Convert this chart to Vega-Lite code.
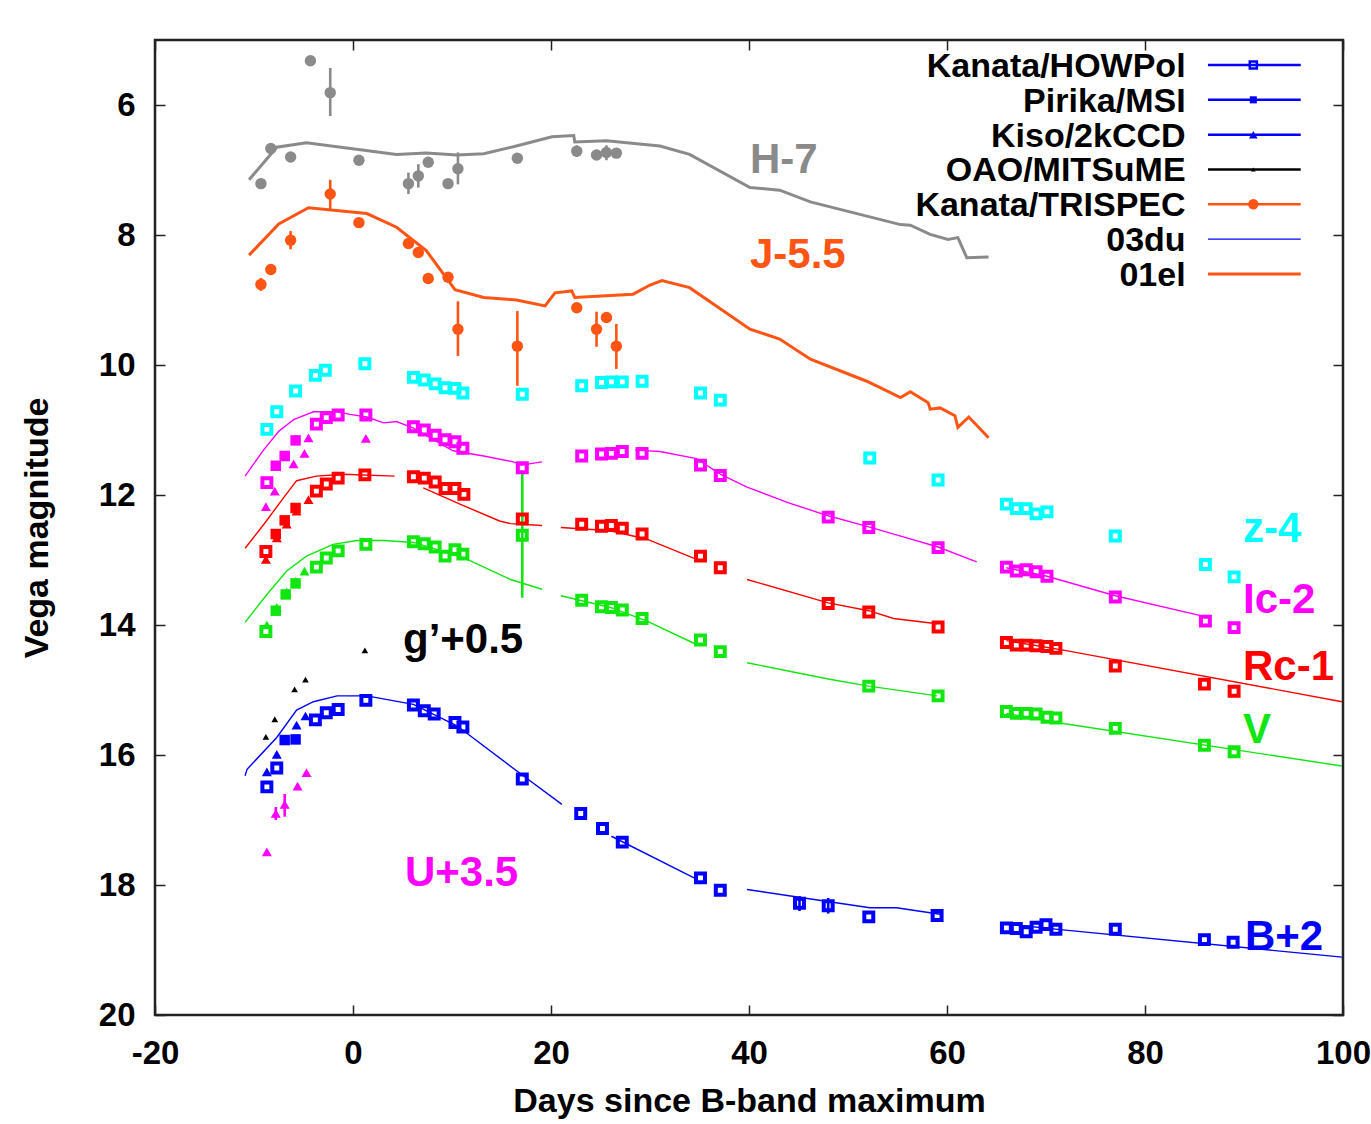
{
  "$schema": "https://vega.github.io/schema/vega-lite/v6.json",
  "width": 1188,
  "height": 975,
  "autosize": "none",
  "padding": {"left": 155, "top": 40, "right": 28, "bottom": 109},
  "background": "white",
  "config": {
    "view": {"stroke": "#222222", "strokeWidth": 2.5},
    "font": "Liberation Sans",
    "axis": {
      "grid": false,
      "domain": false,
      "labelFont": "Liberation Sans",
      "labelFontWeight": "bold",
      "labelFontSize": 33,
      "labelColor": "#000000",
      "labelFlush": false,
      "titleFont": "Liberation Sans",
      "titleFontWeight": "bold",
      "titleFontSize": 34,
      "titleColor": "#000000",
      "tickColor": "#222222",
      "tickWidth": 1.5,
      "tickSize": -10
    }
  },
  "datasets": {
    "obs": [
      {"b":"H","i":"TRISPEC","d":-9.3,"m":7.21},
      {"b":"H","i":"TRISPEC","d":-8.3,"m":6.67},
      {"b":"H","i":"TRISPEC","d":-6.3,"m":6.80},
      {"b":"H","i":"TRISPEC","d":-4.3,"m":5.32},
      {"b":"H","i":"TRISPEC","d":-2.3,"m":5.81,"lo":5.43,"hi":6.17},
      {"b":"H","i":"TRISPEC","d":0.6,"m":6.85},
      {"b":"H","i":"TRISPEC","d":5.6,"m":7.21,"lo":7.04,"hi":7.37},
      {"b":"H","i":"TRISPEC","d":6.6,"m":7.09,"lo":6.91,"hi":7.27},
      {"b":"H","i":"TRISPEC","d":7.6,"m":6.88},
      {"b":"H","i":"TRISPEC","d":9.6,"m":7.21},
      {"b":"H","i":"TRISPEC","d":10.6,"m":6.98,"lo":6.73,"hi":7.22},
      {"b":"H","i":"TRISPEC","d":16.6,"m":6.82},
      {"b":"H","i":"TRISPEC","d":22.6,"m":6.71,"lo":6.62,"hi":6.80},
      {"b":"H","i":"TRISPEC","d":24.6,"m":6.77},
      {"b":"H","i":"TRISPEC","d":25.6,"m":6.73,"lo":6.62,"hi":6.85},
      {"b":"H","i":"TRISPEC","d":26.6,"m":6.74},

      {"b":"J","i":"TRISPEC","d":-9.3,"m":8.76,"lo":8.66,"hi":8.86},
      {"b":"J","i":"TRISPEC","d":-8.3,"m":8.53},
      {"b":"J","i":"TRISPEC","d":-6.3,"m":8.08,"lo":7.94,"hi":8.22},
      {"b":"J","i":"TRISPEC","d":-2.3,"m":7.37,"lo":7.15,"hi":7.60},
      {"b":"J","i":"TRISPEC","d":0.6,"m":7.81},
      {"b":"J","i":"TRISPEC","d":5.6,"m":8.13},
      {"b":"J","i":"TRISPEC","d":6.6,"m":8.27},
      {"b":"J","i":"TRISPEC","d":7.6,"m":8.67},
      {"b":"J","i":"TRISPEC","d":9.6,"m":8.65},
      {"b":"J","i":"TRISPEC","d":10.6,"m":9.45,"lo":9.02,"hi":9.86},
      {"b":"J","i":"TRISPEC","d":16.6,"m":9.71,"lo":9.17,"hi":10.32},
      {"b":"J","i":"TRISPEC","d":22.6,"m":9.12},
      {"b":"J","i":"TRISPEC","d":24.6,"m":9.45,"lo":9.18,"hi":9.72},
      {"b":"J","i":"TRISPEC","d":25.6,"m":9.27},
      {"b":"J","i":"TRISPEC","d":26.6,"m":9.71,"lo":9.37,"hi":10.06},

      {"b":"z","i":"HOWPol","d":-8.7,"m":10.99},
      {"b":"z","i":"HOWPol","d":-7.7,"m":10.72},
      {"b":"z","i":"HOWPol","d":-5.8,"m":10.40},
      {"b":"z","i":"HOWPol","d":-3.8,"m":10.16},
      {"b":"z","i":"HOWPol","d":-2.8,"m":10.08},
      {"b":"z","i":"HOWPol","d":1.2,"m":9.98},
      {"b":"z","i":"HOWPol","d":6.1,"m":10.19},
      {"b":"z","i":"HOWPol","d":7.2,"m":10.23},
      {"b":"z","i":"HOWPol","d":8.3,"m":10.29},
      {"b":"z","i":"HOWPol","d":9.3,"m":10.35},
      {"b":"z","i":"HOWPol","d":10.3,"m":10.36},
      {"b":"z","i":"HOWPol","d":11.1,"m":10.43},
      {"b":"z","i":"HOWPol","d":17.1,"m":10.45},
      {"b":"z","i":"HOWPol","d":23.1,"m":10.32},
      {"b":"z","i":"HOWPol","d":25.1,"m":10.27},
      {"b":"z","i":"HOWPol","d":26.1,"m":10.26},
      {"b":"z","i":"HOWPol","d":27.2,"m":10.26},
      {"b":"z","i":"HOWPol","d":29.2,"m":10.25},
      {"b":"z","i":"HOWPol","d":35.1,"m":10.43},
      {"b":"z","i":"HOWPol","d":37.1,"m":10.54},
      {"b":"z","i":"HOWPol","d":52.2,"m":11.43},
      {"b":"z","i":"HOWPol","d":59.1,"m":11.77},
      {"b":"z","i":"HOWPol","d":66.0,"m":12.14},
      {"b":"z","i":"HOWPol","d":67.0,"m":12.21},
      {"b":"z","i":"HOWPol","d":68.0,"m":12.21},
      {"b":"z","i":"HOWPol","d":69.0,"m":12.29},
      {"b":"z","i":"HOWPol","d":70.1,"m":12.26},
      {"b":"z","i":"HOWPol","d":77.0,"m":12.63},
      {"b":"z","i":"HOWPol","d":86.1,"m":13.07},
      {"b":"z","i":"HOWPol","d":89.0,"m":13.26},

      {"b":"I","i":"HOWPol","d":-8.7,"m":11.81},
      {"b":"I","i":"MSI","d":-7.8,"m":11.55},
      {"b":"I","i":"MSI","d":-6.9,"m":11.40},
      {"b":"I","i":"MSI","d":-5.8,"m":11.16},
      {"b":"I","i":"HOWPol","d":-3.7,"m":10.91},
      {"b":"I","i":"HOWPol","d":-2.7,"m":10.81},
      {"b":"I","i":"HOWPol","d":-1.5,"m":10.77},
      {"b":"I","i":"HOWPol","d":1.3,"m":10.77},
      {"b":"I","i":"HOWPol","d":6.1,"m":10.95},
      {"b":"I","i":"HOWPol","d":7.2,"m":11.00},
      {"b":"I","i":"HOWPol","d":8.3,"m":11.08},
      {"b":"I","i":"HOWPol","d":9.3,"m":11.15},
      {"b":"I","i":"HOWPol","d":10.3,"m":11.18},
      {"b":"I","i":"HOWPol","d":11.1,"m":11.28},
      {"b":"I","i":"HOWPol","d":17.1,"m":11.58},
      {"b":"I","i":"HOWPol","d":23.1,"m":11.40},
      {"b":"I","i":"HOWPol","d":25.1,"m":11.37},
      {"b":"I","i":"HOWPol","d":26.1,"m":11.36},
      {"b":"I","i":"HOWPol","d":27.2,"m":11.33},
      {"b":"I","i":"HOWPol","d":29.2,"m":11.36},
      {"b":"I","i":"HOWPol","d":35.1,"m":11.54},
      {"b":"I","i":"HOWPol","d":37.1,"m":11.70},
      {"b":"I","i":"HOWPol","d":48.0,"m":12.34},
      {"b":"I","i":"HOWPol","d":52.1,"m":12.50},
      {"b":"I","i":"HOWPol","d":59.1,"m":12.81},
      {"b":"I","i":"HOWPol","d":66.0,"m":13.11},
      {"b":"I","i":"HOWPol","d":67.0,"m":13.17},
      {"b":"I","i":"HOWPol","d":68.0,"m":13.15},
      {"b":"I","i":"HOWPol","d":69.0,"m":13.18},
      {"b":"I","i":"HOWPol","d":70.1,"m":13.25},
      {"b":"I","i":"HOWPol","d":77.0,"m":13.57},
      {"b":"I","i":"HOWPol","d":86.1,"m":13.94},
      {"b":"I","i":"HOWPol","d":89.0,"m":14.04},
      {"b":"I","i":"2kCCD","d":-8.8,"m":12.18},
      {"b":"I","i":"2kCCD","d":-7.9,"m":11.94},
      {"b":"I","i":"2kCCD","d":-6.0,"m":11.52},
      {"b":"I","i":"2kCCD","d":-4.9,"m":11.36},
      {"b":"I","i":"2kCCD","d":-4.5,"m":11.12},
      {"b":"I","i":"2kCCD","d":1.3,"m":11.13},

      {"b":"R","i":"HOWPol","d":-8.8,"m":12.87},
      {"b":"R","i":"MSI","d":-7.8,"m":12.60},
      {"b":"R","i":"MSI","d":-6.9,"m":12.39},
      {"b":"R","i":"MSI","d":-5.8,"m":12.20},
      {"b":"R","i":"HOWPol","d":-3.7,"m":11.94},
      {"b":"R","i":"HOWPol","d":-2.7,"m":11.83},
      {"b":"R","i":"HOWPol","d":-1.5,"m":11.74},
      {"b":"R","i":"HOWPol","d":1.2,"m":11.69},
      {"b":"R","i":"HOWPol","d":6.1,"m":11.72},
      {"b":"R","i":"HOWPol","d":7.2,"m":11.74},
      {"b":"R","i":"HOWPol","d":8.3,"m":11.80},
      {"b":"R","i":"HOWPol","d":9.3,"m":11.90},
      {"b":"R","i":"HOWPol","d":10.3,"m":11.90},
      {"b":"R","i":"HOWPol","d":11.2,"m":11.99},
      {"b":"R","i":"HOWPol","d":17.1,"m":12.37},
      {"b":"R","i":"HOWPol","d":23.1,"m":12.45},
      {"b":"R","i":"HOWPol","d":25.1,"m":12.48},
      {"b":"R","i":"HOWPol","d":26.1,"m":12.47},
      {"b":"R","i":"HOWPol","d":27.2,"m":12.51},
      {"b":"R","i":"HOWPol","d":29.2,"m":12.60},
      {"b":"R","i":"HOWPol","d":35.1,"m":12.94},
      {"b":"R","i":"HOWPol","d":37.1,"m":13.12},
      {"b":"R","i":"HOWPol","d":48.0,"m":13.67},
      {"b":"R","i":"HOWPol","d":52.1,"m":13.80},
      {"b":"R","i":"HOWPol","d":59.1,"m":14.03},
      {"b":"R","i":"HOWPol","d":66.0,"m":14.27},
      {"b":"R","i":"HOWPol","d":67.0,"m":14.31},
      {"b":"R","i":"HOWPol","d":68.0,"m":14.31},
      {"b":"R","i":"HOWPol","d":69.0,"m":14.32},
      {"b":"R","i":"HOWPol","d":70.1,"m":14.33},
      {"b":"R","i":"HOWPol","d":71.0,"m":14.36},
      {"b":"R","i":"HOWPol","d":77.0,"m":14.63},
      {"b":"R","i":"HOWPol","d":86.0,"m":14.91},
      {"b":"R","i":"HOWPol","d":89.0,"m":15.02},
      {"b":"R","i":"2kCCD","d":-8.8,"m":12.99},
      {"b":"R","i":"2kCCD","d":-7.7,"m":12.66},
      {"b":"R","i":"2kCCD","d":-6.7,"m":12.45},
      {"b":"R","i":"2kCCD","d":-5.7,"m":12.25},
      {"b":"R","i":"2kCCD","d":-4.5,"m":12.07},

      {"b":"V","i":"HOWPol","d":-8.8,"m":14.10},
      {"b":"V","i":"MSI","d":-7.8,"m":13.78},
      {"b":"V","i":"MSI","d":-6.8,"m":13.53},
      {"b":"V","i":"MSI","d":-5.8,"m":13.36},
      {"b":"V","i":"HOWPol","d":-3.7,"m":13.11},
      {"b":"V","i":"HOWPol","d":-2.7,"m":12.97},
      {"b":"V","i":"HOWPol","d":-1.5,"m":12.86},
      {"b":"V","i":"HOWPol","d":1.3,"m":12.76},
      {"b":"V","i":"HOWPol","d":6.1,"m":12.72},
      {"b":"V","i":"HOWPol","d":7.2,"m":12.75},
      {"b":"V","i":"HOWPol","d":8.3,"m":12.80},
      {"b":"V","i":"HOWPol","d":9.3,"m":12.94},
      {"b":"V","i":"HOWPol","d":10.3,"m":12.84},
      {"b":"V","i":"HOWPol","d":11.1,"m":12.91},
      {"b":"V","i":"HOWPol","d":17.1,"m":12.62,"lo":11.66,"hi":13.58},
      {"b":"V","i":"HOWPol","d":23.1,"m":13.62},
      {"b":"V","i":"HOWPol","d":25.1,"m":13.72},
      {"b":"V","i":"HOWPol","d":26.1,"m":13.73},
      {"b":"V","i":"HOWPol","d":27.2,"m":13.77},
      {"b":"V","i":"HOWPol","d":29.2,"m":13.90},
      {"b":"V","i":"HOWPol","d":35.1,"m":14.23},
      {"b":"V","i":"HOWPol","d":37.1,"m":14.41},
      {"b":"V","i":"HOWPol","d":52.1,"m":14.94},
      {"b":"V","i":"HOWPol","d":59.1,"m":15.09},
      {"b":"V","i":"HOWPol","d":66.0,"m":15.33},
      {"b":"V","i":"HOWPol","d":67.0,"m":15.36},
      {"b":"V","i":"HOWPol","d":68.0,"m":15.36},
      {"b":"V","i":"HOWPol","d":69.0,"m":15.37},
      {"b":"V","i":"HOWPol","d":70.1,"m":15.42},
      {"b":"V","i":"HOWPol","d":71.0,"m":15.43},
      {"b":"V","i":"HOWPol","d":77.0,"m":15.59},
      {"b":"V","i":"HOWPol","d":86.0,"m":15.85},
      {"b":"V","i":"HOWPol","d":89.0,"m":15.95},
      {"b":"V","i":"2kCCD","d":-8.7,"m":14.00},
      {"b":"V","i":"2kCCD","d":-7.7,"m":13.73},
      {"b":"V","i":"2kCCD","d":-6.7,"m":13.49},
      {"b":"V","i":"2kCCD","d":-5.8,"m":13.33},
      {"b":"V","i":"2kCCD","d":-4.9,"m":13.17},

      {"b":"B","i":"HOWPol","d":-8.7,"m":16.49},
      {"b":"B","i":"HOWPol","d":-7.7,"m":16.20},
      {"b":"B","i":"MSI","d":-6.9,"m":15.77},
      {"b":"B","i":"MSI","d":-5.8,"m":15.76},
      {"b":"B","i":"HOWPol","d":-3.8,"m":15.46},
      {"b":"B","i":"HOWPol","d":-2.7,"m":15.35},
      {"b":"B","i":"HOWPol","d":-1.5,"m":15.30},
      {"b":"B","i":"HOWPol","d":1.3,"m":15.16},
      {"b":"B","i":"HOWPol","d":6.1,"m":15.23},
      {"b":"B","i":"HOWPol","d":7.2,"m":15.32},
      {"b":"B","i":"HOWPol","d":8.2,"m":15.37},
      {"b":"B","i":"HOWPol","d":10.3,"m":15.50},
      {"b":"B","i":"HOWPol","d":11.1,"m":15.57},
      {"b":"B","i":"HOWPol","d":17.1,"m":16.37},
      {"b":"B","i":"HOWPol","d":23.0,"m":16.90},
      {"b":"B","i":"HOWPol","d":25.2,"m":17.13},
      {"b":"B","i":"HOWPol","d":27.2,"m":17.34},
      {"b":"B","i":"HOWPol","d":35.1,"m":17.89},
      {"b":"B","i":"HOWPol","d":37.1,"m":18.08},
      {"b":"B","i":"HOWPol","d":45.1,"m":18.28,"lo":18.17,"hi":18.40},
      {"b":"B","i":"HOWPol","d":48.0,"m":18.32,"lo":18.20,"hi":18.44},
      {"b":"B","i":"HOWPol","d":52.1,"m":18.49},
      {"b":"B","i":"HOWPol","d":59.0,"m":18.47},
      {"b":"B","i":"HOWPol","d":66.0,"m":18.66},
      {"b":"B","i":"HOWPol","d":67.0,"m":18.67},
      {"b":"B","i":"HOWPol","d":68.0,"m":18.72},
      {"b":"B","i":"HOWPol","d":69.0,"m":18.65},
      {"b":"B","i":"HOWPol","d":70.0,"m":18.61},
      {"b":"B","i":"HOWPol","d":71.0,"m":18.68},
      {"b":"B","i":"HOWPol","d":77.0,"m":18.68},
      {"b":"B","i":"HOWPol","d":86.0,"m":18.84},
      {"b":"B","i":"HOWPol","d":88.9,"m":18.88},
      {"b":"B","i":"2kCCD","d":-8.7,"m":16.26},
      {"b":"B","i":"2kCCD","d":-7.7,"m":15.99},
      {"b":"B","i":"2kCCD","d":-5.7,"m":15.54},
      {"b":"B","i":"2kCCD","d":-4.8,"m":15.40},

      {"b":"U","i":"2kCCD","d":-8.7,"m":17.49},
      {"b":"U","i":"2kCCD","d":-7.8,"m":16.90,"lo":16.80,"hi":17.00},
      {"b":"U","i":"2kCCD","d":-6.9,"m":16.76,"lo":16.60,"hi":16.95},
      {"b":"U","i":"2kCCD","d":-5.6,"m":16.48},
      {"b":"U","i":"2kCCD","d":-4.7,"m":16.27},

      {"b":"g","i":"MITSuME","d":-8.8,"m":15.72},
      {"b":"g","i":"MITSuME","d":-7.9,"m":15.45},
      {"b":"g","i":"MITSuME","d":-5.9,"m":14.99},
      {"b":"g","i":"MITSuME","d":-4.8,"m":14.84},
      {"b":"g","i":"MITSuME","d":1.2,"m":14.39}
    ],
    "model": [
      {"b":"H","t":"01el","s":"H1","d":-10.5,"m":7.15},
      {"b":"H","t":"01el","s":"H1","d":-7.7,"m":6.65},
      {"b":"H","t":"01el","s":"H1","d":-4.7,"m":6.58},
      {"b":"H","t":"01el","s":"H1","d":4.4,"m":6.76},
      {"b":"H","t":"01el","s":"H1","d":7.4,"m":6.74},
      {"b":"H","t":"01el","s":"H1","d":10.5,"m":6.77},
      {"b":"H","t":"01el","s":"H1","d":13.2,"m":6.75},
      {"b":"H","t":"01el","s":"H1","d":16.5,"m":6.63},
      {"b":"H","t":"01el","s":"H1","d":20.1,"m":6.49},
      {"b":"H","t":"01el","s":"H1","d":22.3,"m":6.47},
      {"b":"H","t":"01el","s":"H1","d":22.4,"m":6.57},
      {"b":"H","t":"01el","s":"H1","d":25.6,"m":6.55},
      {"b":"H","t":"01el","s":"H1","d":31.0,"m":6.63},
      {"b":"H","t":"01el","s":"H1","d":34.0,"m":6.76},
      {"b":"H","t":"01el","s":"H1","d":40.1,"m":7.27},
      {"b":"H","t":"01el","s":"H1","d":43.1,"m":7.31},
      {"b":"H","t":"01el","s":"H1","d":46.2,"m":7.49},
      {"b":"H","t":"01el","s":"H1","d":55.3,"m":7.84},
      {"b":"H","t":"01el","s":"H1","d":56.3,"m":7.85},
      {"b":"H","t":"01el","s":"H1","d":58.3,"m":7.99},
      {"b":"H","t":"01el","s":"H1","d":60.1,"m":8.07},
      {"b":"H","t":"01el","s":"H1","d":61.1,"m":8.04},
      {"b":"H","t":"01el","s":"H1","d":62.0,"m":8.35},
      {"b":"H","t":"01el","s":"H1","d":64.2,"m":8.34},

      {"b":"J","t":"01el","s":"J1","d":-10.5,"m":8.31},
      {"b":"J","t":"01el","s":"J1","d":-7.5,"m":7.83},
      {"b":"J","t":"01el","s":"J1","d":-4.5,"m":7.58},
      {"b":"J","t":"01el","s":"J1","d":1.4,"m":7.67},
      {"b":"J","t":"01el","s":"J1","d":4.4,"m":7.88},
      {"b":"J","t":"01el","s":"J1","d":7.4,"m":8.24},
      {"b":"J","t":"01el","s":"J1","d":10.3,"m":8.84},
      {"b":"J","t":"01el","s":"J1","d":13.2,"m":8.96},
      {"b":"J","t":"01el","s":"J1","d":16.5,"m":9.00},
      {"b":"J","t":"01el","s":"J1","d":19.4,"m":9.09},
      {"b":"J","t":"01el","s":"J1","d":20.4,"m":8.89},
      {"b":"J","t":"01el","s":"J1","d":22.1,"m":8.86},
      {"b":"J","t":"01el","s":"J1","d":22.4,"m":8.96},
      {"b":"J","t":"01el","s":"J1","d":28.3,"m":8.91},
      {"b":"J","t":"01el","s":"J1","d":30.0,"m":8.77},
      {"b":"J","t":"01el","s":"J1","d":31.2,"m":8.70},
      {"b":"J","t":"01el","s":"J1","d":34.0,"m":8.81},
      {"b":"J","t":"01el","s":"J1","d":40.1,"m":9.45},
      {"b":"J","t":"01el","s":"J1","d":43.1,"m":9.60},
      {"b":"J","t":"01el","s":"J1","d":46.2,"m":9.91},
      {"b":"J","t":"01el","s":"J1","d":51.9,"m":10.25},
      {"b":"J","t":"01el","s":"J1","d":55.3,"m":10.50},
      {"b":"J","t":"01el","s":"J1","d":56.3,"m":10.41},
      {"b":"J","t":"01el","s":"J1","d":58.1,"m":10.58},
      {"b":"J","t":"01el","s":"J1","d":58.3,"m":10.68},
      {"b":"J","t":"01el","s":"J1","d":59.3,"m":10.66},
      {"b":"J","t":"01el","s":"J1","d":60.8,"m":10.78},
      {"b":"J","t":"01el","s":"J1","d":61.1,"m":10.96},
      {"b":"J","t":"01el","s":"J1","d":62.2,"m":10.80},
      {"b":"J","t":"01el","s":"J1","d":64.2,"m":11.12},

      {"b":"I","t":"03du","s":"I1","d":-10.9,"m":11.71},
      {"b":"I","t":"03du","s":"I1","d":-9.1,"m":11.32},
      {"b":"I","t":"03du","s":"I1","d":-7.5,"m":11.02},
      {"b":"I","t":"03du","s":"I1","d":-6.0,"m":10.84},
      {"b":"I","t":"03du","s":"I1","d":-4.0,"m":10.72},
      {"b":"I","t":"03du","s":"I1","d":-1.6,"m":10.72},
      {"b":"I","t":"03du","s":"I1","d":-0.3,"m":10.76},
      {"b":"I","t":"03du","s":"I1","d":1.4,"m":10.80},
      {"b":"I","t":"03du","s":"I1","d":3.1,"m":10.89},
      {"b":"I","t":"03du","s":"I1","d":4.4,"m":10.87},
      {"b":"I","t":"03du","s":"I1","d":6.1,"m":10.97},
      {"b":"I","t":"03du","s":"I1","d":10.1,"m":11.32},
      {"b":"I","t":"03du","s":"I1","d":13.2,"m":11.40},
      {"b":"I","t":"03du","s":"I1","d":16.2,"m":11.49},
      {"b":"I","t":"03du","s":"I1","d":17.0,"m":11.54},
      {"b":"I","t":"03du","s":"I1","d":19.1,"m":11.49},
      {"b":"I","t":"03du","s":"I2","d":28.5,"m":11.31},
      {"b":"I","t":"03du","s":"I2","d":31.0,"m":11.33},
      {"b":"I","t":"03du","s":"I2","d":34.7,"m":11.44},
      {"b":"I","t":"03du","s":"I2","d":37.1,"m":11.68},
      {"b":"I","t":"03du","s":"I2","d":39.8,"m":11.88},
      {"b":"I","t":"03du","s":"I2","d":44.0,"m":12.12},
      {"b":"I","t":"03du","s":"I2","d":48.0,"m":12.32},
      {"b":"I","t":"03du","s":"I2","d":52.1,"m":12.49},
      {"b":"I","t":"03du","s":"I2","d":55.5,"m":12.64},
      {"b":"I","t":"03du","s":"I2","d":59.1,"m":12.80},
      {"b":"I","t":"03du","s":"I2","d":63.0,"m":13.03},
      {"b":"I","t":"03du","s":"I3","d":66.0,"m":13.12},
      {"b":"I","t":"03du","s":"I3","d":70.1,"m":13.25},
      {"b":"I","t":"03du","s":"I3","d":77.0,"m":13.55},
      {"b":"I","t":"03du","s":"I3","d":86.6,"m":13.89},

      {"b":"R","t":"03du","s":"R1","d":-10.9,"m":12.82},
      {"b":"R","t":"03du","s":"R1","d":-9.0,"m":12.45},
      {"b":"R","t":"03du","s":"R1","d":-7.0,"m":12.04},
      {"b":"R","t":"03du","s":"R1","d":-5.7,"m":11.78},
      {"b":"R","t":"03du","s":"R1","d":-3.7,"m":11.71},
      {"b":"R","t":"03du","s":"R1","d":-1.0,"m":11.68},
      {"b":"R","t":"03du","s":"R1","d":4.2,"m":11.71},
      {"b":"R","t":"03du","s":"R2","d":7.1,"m":11.89},
      {"b":"R","t":"03du","s":"R2","d":10.8,"m":12.14},
      {"b":"R","t":"03du","s":"R2","d":14.8,"m":12.40},
      {"b":"R","t":"03du","s":"R2","d":15.9,"m":12.44},
      {"b":"R","t":"03du","s":"R2","d":19.1,"m":12.47},
      {"b":"R","t":"03du","s":"R3","d":21.0,"m":12.50},
      {"b":"R","t":"03du","s":"R3","d":26.0,"m":12.55},
      {"b":"R","t":"03du","s":"R3","d":29.7,"m":12.68},
      {"b":"R","t":"03du","s":"R3","d":34.7,"m":12.99},
      {"b":"R","t":"03du","s":"R4","d":39.8,"m":13.30},
      {"b":"R","t":"03du","s":"R4","d":48.0,"m":13.66},
      {"b":"R","t":"03du","s":"R4","d":52.1,"m":13.78},
      {"b":"R","t":"03du","s":"R4","d":54.6,"m":13.90},
      {"b":"R","t":"03du","s":"R4","d":59.0,"m":13.98},
      {"b":"R","t":"03du","s":"R5","d":66.0,"m":14.24},
      {"b":"R","t":"03du","s":"R5","d":71.9,"m":14.39},
      {"b":"R","t":"03du","s":"R5","d":99.9,"m":15.18},

      {"b":"V","t":"03du","s":"V1","d":-10.9,"m":13.96},
      {"b":"V","t":"03du","s":"V1","d":-8.7,"m":13.53},
      {"b":"V","t":"03du","s":"V1","d":-6.7,"m":13.17},
      {"b":"V","t":"03du","s":"V1","d":-4.7,"m":12.94},
      {"b":"V","t":"03du","s":"V1","d":-2.0,"m":12.76},
      {"b":"V","t":"03du","s":"V1","d":0.4,"m":12.70},
      {"b":"V","t":"03du","s":"V1","d":3.1,"m":12.70},
      {"b":"V","t":"03du","s":"V1","d":6.1,"m":12.73},
      {"b":"V","t":"03du","s":"V1","d":11.1,"m":12.96},
      {"b":"V","t":"03du","s":"V1","d":14.8,"m":13.22},
      {"b":"V","t":"03du","s":"V1","d":15.9,"m":13.30},
      {"b":"V","t":"03du","s":"V1","d":19.1,"m":13.45},
      {"b":"V","t":"03du","s":"V2","d":21.0,"m":13.55},
      {"b":"V","t":"03du","s":"V2","d":26.0,"m":13.73},
      {"b":"V","t":"03du","s":"V2","d":29.7,"m":13.94},
      {"b":"V","t":"03du","s":"V2","d":34.7,"m":14.30},
      {"b":"V","t":"03du","s":"V3","d":39.8,"m":14.58},
      {"b":"V","t":"03du","s":"V3","d":48.0,"m":14.83},
      {"b":"V","t":"03du","s":"V3","d":52.1,"m":14.94},
      {"b":"V","t":"03du","s":"V3","d":59.0,"m":15.09},
      {"b":"V","t":"03du","s":"V4","d":66.0,"m":15.36},
      {"b":"V","t":"03du","s":"V4","d":71.9,"m":15.52},
      {"b":"V","t":"03du","s":"V4","d":99.9,"m":16.17},

      {"b":"B","t":"03du","s":"B1","d":-10.9,"m":16.32},
      {"b":"B","t":"03du","s":"B1","d":-10.7,"m":16.22},
      {"b":"B","t":"03du","s":"B1","d":-7.7,"m":15.73},
      {"b":"B","t":"03du","s":"B1","d":-5.7,"m":15.31},
      {"b":"B","t":"03du","s":"B1","d":-4.0,"m":15.18},
      {"b":"B","t":"03du","s":"B1","d":-1.6,"m":15.09},
      {"b":"B","t":"03du","s":"B1","d":1.4,"m":15.09},
      {"b":"B","t":"03du","s":"B1","d":6.1,"m":15.22},
      {"b":"B","t":"03du","s":"B1","d":10.5,"m":15.55},
      {"b":"B","t":"03du","s":"B1","d":17.2,"m":16.32},
      {"b":"B","t":"03du","s":"B1","d":21.1,"m":16.76},
      {"b":"B","t":"03du","s":"B2","d":26.1,"m":17.25},
      {"b":"B","t":"03du","s":"B2","d":34.7,"m":17.91},
      {"b":"B","t":"03du","s":"B3","d":39.8,"m":18.07},
      {"b":"B","t":"03du","s":"B3","d":52.2,"m":18.35},
      {"b":"B","t":"03du","s":"B3","d":54.9,"m":18.35},
      {"b":"B","t":"03du","s":"B3","d":59.3,"m":18.45},
      {"b":"B","t":"03du","s":"B4","d":66.0,"m":18.60},
      {"b":"B","t":"03du","s":"B4","d":71.7,"m":18.69},
      {"b":"B","t":"03du","s":"B4","d":99.9,"m":19.11}
    ],
    "bandLabels": [
      {"t":"H-7","b":"H","d":40.1,"m":7.04},
      {"t":"J-5.5","b":"J","d":40.1,"m":8.51},
      {"t":"z-4","b":"z","d":89.9,"m":12.73},
      {"t":"Ic-2","b":"I","d":89.9,"m":13.81},
      {"t":"Rc-1","b":"R","d":89.9,"m":14.84},
      {"t":"V","b":"V","d":89.9,"m":15.81},
      {"t":"B+2","b":"B","d":90.1,"m":19.0},
      {"t":"U+3.5","b":"U","d":5.25,"m":18.02},
      {"t":"g’+0.5","b":"g","d":5.05,"m":14.43}
    ],
    "key": [
      {"k":0,"label":"Kanata/HOWPol","b":"B","i":"HOWPol"},
      {"k":1,"label":"Pirika/MSI","b":"B","i":"MSI"},
      {"k":2,"label":"Kiso/2kCCD","b":"B","i":"2kCCD"},
      {"k":3,"label":"OAO/MITSuME","b":"g","i":"MITSuME"},
      {"k":4,"label":"Kanata/TRISPEC","b":"J","i":"TRISPEC"},
      {"k":5,"label":"03du","b":"B","i":"03du"},
      {"k":6,"label":"01el","b":"J","i":"01el"}
    ]
  },
  "layer": [
    {
      "layer": [
        {
          "data": {"name": "model"},
          "transform": [{"filter": {"field": "t", "equal": "03du"}}],
          "mark": {"type": "line", "strokeWidth": 1.4},
          "encoding": {
            "x": {"field": "d", "type": "quantitative", "scale": {"domain": [-20, 100], "nice": false, "zero": false},
                  "axis": {"orient": "bottom", "values": [-20, 0, 20, 40, 60, 80, 100], "title": "Days since B-band maximum",
                           "labelExpr": "datum.value < 0 ? '-' + abs(datum.value) : '' + datum.value",
                           "labelPadding": 32, "titlePadding": 14}},
            "y": {"field": "m", "type": "quantitative", "scale": {"domain": [5, 20], "reverse": true, "nice": false, "zero": false},
                  "axis": {"orient": "left", "values": [6, 8, 10, 12, 14, 16, 18, 20], "title": "Vega magnitude", "labelPadding": 30, "titlePadding": 44}},
            "color": {"field": "b", "type": "nominal", "legend": null,
                      "scale": {"domain": ["H", "J", "z", "I", "R", "V", "B", "U", "g"],
                                "range": ["#8a8a8a", "#ff5514", "#00ffff", "#ff00ff", "#ff0000", "#11e611", "#0000ff", "#ff00ff", "#000000"]}},
            "detail": {"field": "s"}
          }
        },
        {
          "data": {"name": "model"},
          "transform": [{"filter": {"field": "t", "equal": "01el"}}],
          "mark": {"type": "line", "strokeWidth": 3},
          "encoding": {
            "x": {"field": "d", "type": "quantitative", "scale": {"domain": [-20, 100]},
                  "axis": {"orient": "top", "values": [-20, 0, 20, 40, 60, 80, 100], "labels": false, "title": null}},
            "y": {"field": "m", "type": "quantitative",
                  "axis": {"orient": "right", "values": [6, 8, 10, 12, 14, 16, 18, 20], "labels": false, "title": null}},
            "color": {"field": "b", "type": "nominal", "legend": null},
            "detail": {"field": "s"}
          }
        },
        {
          "data": {"name": "obs"},
          "transform": [{"filter": "isValid(datum.lo)"}],
          "mark": {"type": "rule", "strokeWidth": 2.6},
          "encoding": {
            "x": {"field": "d", "type": "quantitative", "axis": null},
            "y": {"field": "lo", "type": "quantitative", "axis": null},
            "y2": {"field": "hi"},
            "color": {"field": "b", "type": "nominal", "legend": null}
          }
        },
        {
          "data": {"name": "obs"},
          "transform": [{"filter": {"field": "i", "equal": "HOWPol"}}],
          "mark": {"type": "point", "shape": "square", "filled": false, "strokeWidth": 4, "size": 80, "opacity": 1},
          "encoding": {
            "x": {"field": "d", "type": "quantitative", "axis": null},
            "y": {"field": "m", "type": "quantitative", "axis": null},
            "color": {"field": "b", "type": "nominal", "legend": null}
          }
        },
        {
          "data": {"name": "obs"},
          "transform": [{"filter": {"field": "i", "equal": "MSI"}}],
          "mark": {"type": "point", "shape": "square", "filled": true, "size": 110, "opacity": 1},
          "encoding": {
            "x": {"field": "d", "type": "quantitative", "axis": null},
            "y": {"field": "m", "type": "quantitative", "axis": null},
            "color": {"field": "b", "type": "nominal", "legend": null}
          }
        },
        {
          "data": {"name": "obs"},
          "transform": [{"filter": {"field": "i", "equal": "2kCCD"}}],
          "mark": {"type": "point", "shape": "triangle-up", "filled": true, "size": 100, "opacity": 1},
          "encoding": {
            "x": {"field": "d", "type": "quantitative", "axis": null},
            "y": {"field": "m", "type": "quantitative", "axis": null},
            "color": {"field": "b", "type": "nominal", "legend": null}
          }
        },
        {
          "data": {"name": "obs"},
          "transform": [{"filter": {"field": "i", "equal": "MITSuME"}}],
          "mark": {"type": "point", "shape": "triangle-up", "filled": true, "size": 45, "opacity": 1},
          "encoding": {
            "x": {"field": "d", "type": "quantitative", "axis": null},
            "y": {"field": "m", "type": "quantitative", "axis": null},
            "color": {"field": "b", "type": "nominal", "legend": null}
          }
        },
        {
          "data": {"name": "obs"},
          "transform": [{"filter": {"field": "i", "equal": "TRISPEC"}}],
          "mark": {"type": "point", "shape": "circle", "filled": true, "size": 130, "opacity": 1},
          "encoding": {
            "x": {"field": "d", "type": "quantitative", "axis": null},
            "y": {"field": "m", "type": "quantitative", "axis": null},
            "color": {"field": "b", "type": "nominal", "legend": null}
          }
        },
        {
          "data": {"name": "bandLabels"},
          "mark": {"type": "text", "align": "left", "baseline": "alphabetic", "font": "Liberation Sans", "fontWeight": "bold", "fontSize": 42},
          "encoding": {
            "x": {"field": "d", "type": "quantitative", "axis": null},
            "y": {"field": "m", "type": "quantitative", "axis": null},
            "text": {"field": "t"},
            "color": {"field": "b", "type": "nominal", "legend": null}
          }
        }
      ],
      "resolve": {"axis": {"x": "independent", "y": "independent"}}
    },
    {
      "data": {"name": "key"},
      "encoding": {
        "y": {"field": "k", "type": "quantitative", "axis": null,
              "scale": {"domain": [-0.718, 27.276], "reverse": true, "nice": false, "zero": false}}
      },
      "layer": [
        {
          "mark": {"type": "text", "align": "right", "baseline": "middle", "dy": 2, "font": "Liberation Sans", "fontWeight": "bold", "fontSize": 34, "color": "#000000"},
          "encoding": {
            "x": {"datum": 84.1, "type": "quantitative", "axis": null},
            "text": {"field": "label"}
          }
        },
        {
          "transform": [{"filter": "datum.i != '03du' && datum.i != '01el'"}],
          "mark": {"type": "rule", "strokeWidth": 2.5},
          "encoding": {
            "x": {"datum": 86.36, "type": "quantitative", "axis": null},
            "x2": {"datum": 95.73},
            "color": {"field": "b", "type": "nominal", "legend": null}
          }
        },
        {
          "transform": [{"filter": {"field": "i", "equal": "03du"}}],
          "mark": {"type": "rule", "strokeWidth": 1.4},
          "encoding": {
            "x": {"datum": 86.36, "type": "quantitative", "axis": null},
            "x2": {"datum": 95.73},
            "color": {"field": "b", "type": "nominal", "legend": null}
          }
        },
        {
          "transform": [{"filter": {"field": "i", "equal": "01el"}}],
          "mark": {"type": "rule", "strokeWidth": 3},
          "encoding": {
            "x": {"datum": 86.36, "type": "quantitative", "axis": null},
            "x2": {"datum": 95.73},
            "color": {"field": "b", "type": "nominal", "legend": null}
          }
        },
        {
          "transform": [{"filter": {"field": "i", "equal": "HOWPol"}}],
          "mark": {"type": "point", "shape": "square", "filled": false, "strokeWidth": 2.5, "size": 50, "opacity": 1},
          "encoding": {
            "x": {"datum": 90.94, "type": "quantitative", "axis": null},
            "color": {"field": "b", "type": "nominal", "legend": null}
          }
        },
        {
          "transform": [{"filter": {"field": "i", "equal": "MSI"}}],
          "mark": {"type": "point", "shape": "square", "filled": true, "size": 50, "opacity": 1},
          "encoding": {
            "x": {"datum": 90.94, "type": "quantitative", "axis": null},
            "color": {"field": "b", "type": "nominal", "legend": null}
          }
        },
        {
          "transform": [{"filter": {"field": "i", "equal": "2kCCD"}}],
          "mark": {"type": "point", "shape": "triangle-up", "filled": true, "size": 75, "opacity": 1},
          "encoding": {
            "x": {"datum": 90.94, "type": "quantitative", "axis": null},
            "color": {"field": "b", "type": "nominal", "legend": null}
          }
        },
        {
          "transform": [{"filter": {"field": "i", "equal": "MITSuME"}}],
          "mark": {"type": "point", "shape": "triangle-up", "filled": true, "size": 22, "opacity": 1},
          "encoding": {
            "x": {"datum": 90.94, "type": "quantitative", "axis": null},
            "color": {"field": "b", "type": "nominal", "legend": null}
          }
        },
        {
          "transform": [{"filter": {"field": "i", "equal": "TRISPEC"}}],
          "mark": {"type": "point", "shape": "circle", "filled": true, "size": 110, "opacity": 1},
          "encoding": {
            "x": {"datum": 90.94, "type": "quantitative", "axis": null},
            "color": {"field": "b", "type": "nominal", "legend": null}
          }
        }
      ]
    }
  ],
  "resolve": {"scale": {"y": "independent"}, "axis": {"x": "independent", "y": "independent"}}
}
